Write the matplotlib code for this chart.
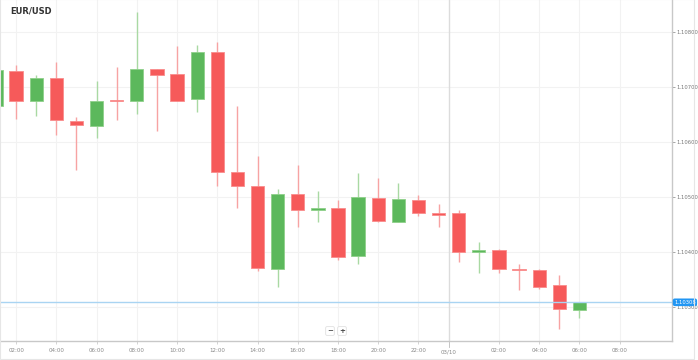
import numpy as np
import matplotlib.pyplot as plt
from matplotlib.patches import Rectangle
import matplotlib.transforms as mtransforms

# hourly candles, hour 1 = 01:00 of 02/10, hour 24 = 00:00 of 03/10
hours = np.arange(1, 31)
opens = [1.10666, 1.10730, 1.10674, 1.10716, 1.10638, 1.10629, 1.10677, 1.10674, 1.10733, 1.10724,
         1.10678, 1.10764, 1.10545, 1.10520, 1.10369, 1.10505, 1.10476, 1.10480, 1.10393, 1.10498,
         1.10455, 1.10494, 1.10471, 1.10470, 1.10400, 1.10403, 1.10369, 1.10367, 1.10339, 1.10294]
highs = [1.10739, 1.10740, 1.10722, 1.10746, 1.10646, 1.10711, 1.10737, 1.10837, 1.10734, 1.10775,
         1.10777, 1.10783, 1.10666, 1.10575, 1.10514, 1.10559, 1.10510, 1.10494, 1.10544, 1.10535,
         1.10526, 1.10504, 1.10487, 1.10476, 1.10417, 1.10405, 1.10377, 1.10368, 1.10358, 1.10308]
lows = [1.10655, 1.10642, 1.10647, 1.10613, 1.10550, 1.10607, 1.10640, 1.10651, 1.10621, 1.10674,
        1.10655, 1.10520, 1.10480, 1.10365, 1.10336, 1.10446, 1.10455, 1.10386, 1.10377, 1.10455,
        1.10455, 1.10466, 1.10446, 1.10382, 1.10362, 1.10362, 1.10330, 1.10332, 1.10259, 1.10279]
closes = [1.10731, 1.10674, 1.10716, 1.10640, 1.10631, 1.10675, 1.10674, 1.10733, 1.10723, 1.10675,
          1.10765, 1.10545, 1.10520, 1.10371, 1.10505, 1.10476, 1.10480, 1.10391, 1.10499, 1.10456,
          1.10496, 1.10471, 1.10468, 1.10400, 1.10403, 1.10369, 1.10366, 1.10336, 1.10295, 1.10308]

tick_hours = [2, 4, 6, 8, 10, 12, 14, 16, 18, 20, 22, 26, 28, 30, 32]
tick_labels = ["02:00", "04:00", "06:00", "08:00", "10:00", "12:00", "14:00", "16:00",
               "18:00", "20:00", "22:00", "02:00", "04:00", "06:00", "08:00"]
day_break = 23.5
day_label = "03/10"
price_ticks = [1.103, 1.104, 1.105, 1.106, 1.107, 1.108]
last_price = 1.10308

red = "#f65a5a"
green = "#5cb85c"
red_wick = "#f7a3a3"
green_wick = "#a9d9a3"

fig = plt.figure(figsize=(6.98, 3.6), dpi=100)
ax = fig.add_axes([0, 19 / 360, 672 / 698, 341 / 360])

for h, o, hi, lo, c in zip(hours, opens, highs, lows, closes):
    up = c >= o
    ax.vlines(h, lo, hi, color=green_wick if up else red_wick, linewidth=1, zorder=2)
    bottom = min(o, c)
    height = max(abs(c - o), 0.00003)
    ax.add_patch(Rectangle((h - 0.33, bottom), 0.66, height,
                           facecolor=green if up else red,
                           edgecolor="#8fd08a" if up else "#f98c8c",
                           linewidth=0.6, zorder=3))

ax.set_xlim(1.2, 34.6)
ax.set_ylim(1.102375, 1.108589)

# grid
for t in tick_hours:
    ax.axvline(t, color="#f2f2f2", linewidth=0.8, zorder=0)
for p in price_ticks:
    ax.axhline(p, color="#f2f2f2", linewidth=0.8, zorder=0)
ax.axvline(day_break, color="#dcdcdc", linewidth=1, zorder=0)

# last price line and label
ax.axhline(last_price, color="#a9d4f2", linewidth=1, zorder=4)
trans = mtransforms.blended_transform_factory(ax.transAxes, ax.transData)
ax.text(1.003, last_price, f"{last_price:.5f}", transform=trans, fontsize=3.8,
        color="white", ha="left", va="center", zorder=6,
        bbox=dict(boxstyle="round,pad=0.25,rounding_size=0.4", fc="#2196f3", ec="none"))

# axes styling
for side in ["left", "top"]:
    ax.spines[side].set_visible(False)
for side in ["right", "bottom"]:
    ax.spines[side].set_color("#c8c8c8")
    ax.spines[side].set_linewidth(1)

ax.yaxis.tick_right()
ax.set_yticks(price_ticks)
ax.set_yticklabels([f"{p:.5f}" for p in price_ticks])
ax.tick_params(axis="y", length=2, width=0.6, color="#999999", labelsize=3.8,
               labelcolor="#777777", pad=1)

ax.set_xticks(tick_hours)
ax.set_xticklabels(tick_labels)
ax.tick_params(axis="x", length=2, width=0.6, color="#cccccc", labelsize=4,
               labelcolor="#888888", pad=3)
ax.text(day_break, -0.025, day_label, transform=ax.get_xaxis_transform(), fontsize=4,
        color="#888888", ha="center", va="top")
ax.plot([day_break, day_break], [0, -0.018], transform=ax.get_xaxis_transform(),
        color="#bbbbbb", linewidth=0.6, clip_on=False)

# title
fig.text(10 / 698, 1 - 11 / 360, "EUR/USD", fontsize=6, fontweight="bold",
         color="#333333", ha="left", va="center")

# zoom buttons
for xp, s in [(330, "\u2212"), (342, "+")]:
    fig.text(xp / 698, 1 - 331 / 360, s, fontsize=5, fontweight="bold", color="#444444",
             ha="center", va="center",
             bbox=dict(boxstyle="round,pad=0.2", fc="white", ec="#e0e0e0", lw=0.6))

# outer frame
fig.patches.append(Rectangle((0, 1 / 360), 694 / 698, 1, transform=fig.transFigure,
                             fill=False, edgecolor="#e6e6e6", linewidth=0.8))

fig.savefig("out.png", dpi=100)
